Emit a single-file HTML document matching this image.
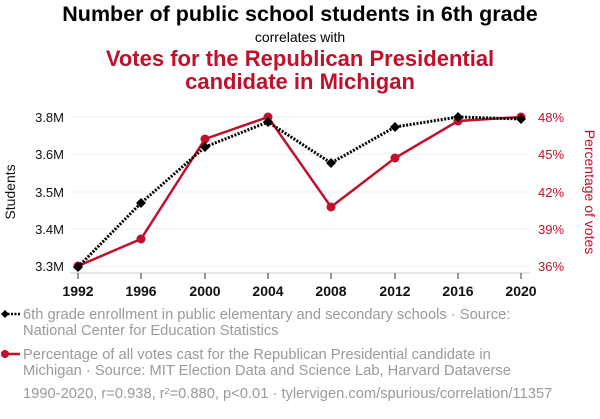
<!DOCTYPE html>
<html><head><meta charset="utf-8"><style>
body{margin:0;background:#fff;width:600px;height:414px;overflow:hidden;font-family:"Liberation Sans",sans-serif}
</style></head><body>
<svg width="600" height="414" xmlns="http://www.w3.org/2000/svg" font-family="Liberation Sans, sans-serif">
<text x="300" y="21" text-anchor="middle" font-size="21.5" font-weight="bold" fill="#000">Number of public school students in 6th grade</text>
<text x="300" y="42" text-anchor="middle" font-size="14" fill="#000">correlates with</text>
<text x="300" y="66" text-anchor="middle" font-size="22" font-weight="bold" fill="#c0102c">Votes for the Republican Presidential</text>
<text x="300" y="89" text-anchor="middle" font-size="22" font-weight="bold" fill="#c0102c">candidate in Michigan</text>
<g stroke="#eee" stroke-width="1">
<line x1="70" x2="530" y1="117" y2="117"/><line x1="70" x2="530" y1="154" y2="154"/><line x1="70" x2="530" y1="192" y2="192"/><line x1="70" x2="530" y1="229" y2="229"/><line x1="70" x2="530" y1="266" y2="266"/>
</g>
<line x1="70" x2="530" y1="273" y2="273" stroke="#ccc"/>
<g stroke="#333"><line x1="78" x2="78" y1="273" y2="279"/><line x1="141" x2="141" y1="273" y2="279"/><line x1="205" x2="205" y1="273" y2="279"/><line x1="268" x2="268" y1="273" y2="279"/><line x1="331" x2="331" y1="273" y2="279"/><line x1="395" x2="395" y1="273" y2="279"/><line x1="458" x2="458" y1="273" y2="279"/><line x1="521" x2="521" y1="273" y2="279"/></g>
<g font-size="14" font-weight="bold" text-anchor="middle" fill="#111">
<text x="78" y="296">1992</text><text x="141" y="296">1996</text><text x="205" y="296">2000</text><text x="268" y="296">2004</text><text x="331" y="296">2008</text><text x="395" y="296">2012</text><text x="458" y="296">2016</text><text x="521" y="296">2020</text></g>
<g font-size="13" text-anchor="end" fill="#111">
<text x="64" y="122">3.8M</text><text x="64" y="159">3.6M</text><text x="64" y="197">3.5M</text><text x="64" y="234">3.4M</text><text x="64" y="271">3.3M</text></g>
<g font-size="13" fill="#c0102c">
<text x="538" y="122">48%</text><text x="538" y="159">45%</text><text x="538" y="197">42%</text><text x="538" y="234">39%</text><text x="538" y="271">36%</text></g>
<text transform="translate(15,192) rotate(-90)" text-anchor="middle" font-size="14" fill="#111">Students</text>
<text transform="translate(585,192) rotate(90)" text-anchor="middle" font-size="14" fill="#c0102c">Percentage of votes</text>
<polyline fill="none" stroke="#c0102c" stroke-width="2.5" points="78,266 141,239 205,139 268,117 331,207 395,158 458,121 521,117"/>
<g fill="#c0102c"><circle cx="78" cy="266" r="4.5"/><circle cx="141" cy="239" r="4.5"/><circle cx="205" cy="139" r="4.5"/><circle cx="268" cy="117" r="4.5"/><circle cx="331" cy="207" r="4.5"/><circle cx="395" cy="158" r="4.5"/><circle cx="458" cy="121" r="4.5"/><circle cx="521" cy="117" r="4.5"/></g>
<polyline fill="none" stroke="#000" stroke-width="3" stroke-dasharray="2,1.5" points="78,267 141,203 205,147 268,122 331,163 395,127 458,117 521,119"/>
<g fill="#000">
<path d="M78 262l5 5-5 5-5-5z"/><path d="M141 198l5 5-5 5-5-5z"/><path d="M205 142l5 5-5 5-5-5z"/><path d="M268 117l5 5-5 5-5-5z"/><path d="M331 158l5 5-5 5-5-5z"/><path d="M395 122l5 5-5 5-5-5z"/><path d="M458 112l5 5-5 5-5-5z"/><path d="M521 114l5 5-5 5-5-5z"/></g>
<line x1="4" x2="20" y1="314" y2="314" stroke="#000" stroke-width="2.5" stroke-dasharray="2,1.5"/>
<path d="M5 310l4 4-4 4-4-4z" fill="#000"/>
<line x1="4" x2="20" y1="354" y2="354" stroke="#c0102c" stroke-width="2.5"/>
<circle cx="5" cy="354" r="4" fill="#c0102c"/>
<g font-size="14.7" fill="#9a9a9a">
<text x="23" y="319">6th grade enrollment in public elementary and secondary schools · Source:</text>
<text x="23" y="335">National Center for Education Statistics</text>
<text x="23" y="359">Percentage of all votes cast for the Republican Presidential candidate in</text>
<text x="23" y="375">Michigan · Source: MIT Election Data and Science Lab, Harvard Dataverse</text>
<text x="23" y="398">1990-2020, r=0.938, r²=0.880, p&lt;0.01 · tylervigen.com/spurious/correlation/11357</text>
</g>
</svg>
</body></html>
